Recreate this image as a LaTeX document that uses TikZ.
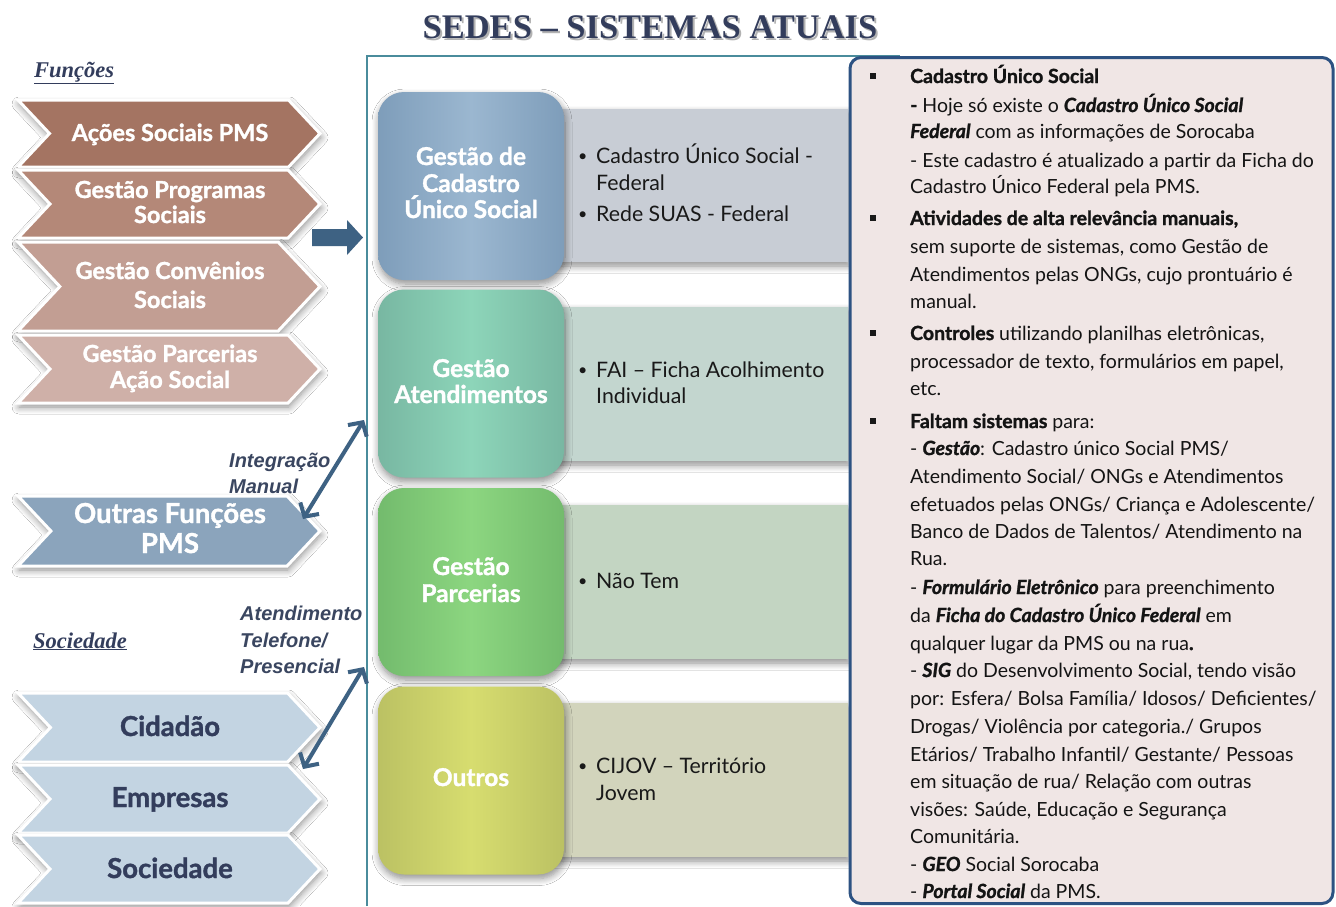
\documentclass[tikz,border=0pt]{standalone}
\usepackage{fontspec}
\setmainfont{Lato}[BoldFeatures={FakeBold=1.3},BoldItalicFeatures={FakeBold=1.3}]
\newfontfamily\tnr[Ligatures=TeX]{Liberation Serif}
\newfontfamily\arl[Ligatures=TeX]{Liberation Sans}
\usetikzlibrary{shadows.blur,arrows.meta}
\definecolor{navy}{HTML}{333D5C}
\definecolor{slate}{HTML}{3A4660}
\definecolor{framec}{HTML}{4A8C9C}
\definecolor{rborder}{HTML}{2D5282}
\definecolor{rfill}{HTML}{F0E6E5}
\definecolor{arrowc}{HTML}{3E6283}
\definecolor{chA}{HTML}{A47462}
\definecolor{chB}{HTML}{B48878}
\definecolor{chC}{HTML}{C29E93}
\definecolor{chD}{HTML}{CFB0A8}
\definecolor{chO}{HTML}{8BA4BC}
\definecolor{chS}{HTML}{C3D4E2}
\definecolor{bandA}{HTML}{C8CDD5}
\definecolor{bandB}{HTML}{C3D6CF}
\definecolor{bandC}{HTML}{C3D5C2}
\definecolor{bandD}{HTML}{D2D4BC}
\definecolor{boxAe}{HTML}{7E9DBA}
\definecolor{boxAm}{HTML}{9BB7D0}
\definecolor{boxBe}{HTML}{78B7A2}
\definecolor{boxBm}{HTML}{8DD5B9}
\definecolor{boxCe}{HTML}{73BB6D}
\definecolor{boxCm}{HTML}{8CD680}
\definecolor{boxDe}{HTML}{BBC163}
\definecolor{boxDm}{HTML}{D7DD6F}
\tikzset{
  shad/.style={blur shadow={shadow blur steps=8, shadow blur radius=7pt, shadow xshift=1pt, shadow yshift=-4pt, shadow opacity=45}},
  chevpath/.style={draw=white, line width=3pt, line join=miter, shad},
  chevtext/.style={anchor=base, inner sep=0, font=\bfseries\fontsize{23.5}{24}\selectfont, text=white},
  bigchevtext/.style={anchor=base, inner sep=0, font=\bfseries\fontsize{27.5}{28}\selectfont},
  boxtitle/.style={anchor=base, inner sep=0, font=\bfseries\fontsize{24.5}{25}\selectfont, text=white},
  sysbox/.style={rounded corners=26pt, minimum width=186pt, minimum height=188pt, inner sep=0, shad},
  band/.style={shad},
  bandtext/.style={anchor=base west, inner sep=0, font=\fontsize{21.3}{22}\selectfont, text=black!90},
  bandbul/.style={anchor=base west, inner sep=0, font=\fontsize{16}{17}\selectfont, text=black!90},
  rtext/.style={anchor=base west, inner sep=0, font=\fontsize{19.5}{20}\selectfont, text=black!92},
  rbul/.style={inner sep=0, fill=black!90, minimum size=6pt},
  lbl/.style={anchor=base west, inner sep=0, font=\arl\bfseries\itshape\fontsize{20}{21}\selectfont, text=slate},
  seclbl/.style={anchor=base west, inner sep=0, font=\tnr\bfseries\itshape\fontsize{22.5}{23}\selectfont, text=navy},
  dbl/.style={draw=arrowc, line width=4pt, {Straight Barb[length=10pt,width=22pt]}-{Straight Barb[length=10pt,width=22pt]}}
}
\newcommand\chev[3]{% y1 y2 fill
  \pgfmathsetmacro\cym{(#1+#2)/2}
  \pgfmathsetmacro\cd{0.47*(#2-#1)}
  \path[chevpath, fill=#3] (18,#1) -- ({320-\cd},#1) -- (320,\cym) -- ({320-\cd},#2) -- (18,#2) -- ({18+\cd},\cym) -- cycle;
}
\newcommand\rl[3]{\node[rtext] (#1) at (910,#2) {#3};}
\newcommand\rb[2]{\node[rbul] (#1) at (872.5,#2-7.5) {};}
\begin{document}
\begin{tikzpicture}[x=1pt,y=-1pt]
\useasboundingbox (0,0) rectangle (1336,906);
\fill[white] (0,0) rectangle (1336,906);

% title
\node[anchor=base, inner sep=0, font=\tnr\bfseries\fontsize{34.5}{35}\selectfont, text=black!30] (titleshadow) at (652,40) {SEDES – SISTEMAS ATUAIS};
\node[anchor=base, inner sep=0, font=\tnr\bfseries\fontsize{34.5}{35}\selectfont, text=navy] (title) at (650,38) {SEDES – SISTEMAS ATUAIS};

% frame
\draw[framec, line width=2pt] (367,906) -- (367,56) -- (900,56);

% section labels
\node[seclbl] (funcoes) at (34,77) {\underline{Funções}};
\node[seclbl] (sociedade) at (33,648) {\underline{Sociedade}};

% function chevrons
\chev{100}{167}{chA}
\chev{170}{238}{chB}
\chev{242}{331}{chC}
\chev{335}{403}{chD}
\node[chevtext] (f1) at (170,141) {Ações Sociais PMS};
\node[chevtext] (f2a) at (170,198) {Gestão Programas};
\node[chevtext] (f2b) at (170,223) {Sociais};
\node[chevtext] (f3a) at (170,279) {Gestão Convênios};
\node[chevtext] (f3b) at (170,308) {Sociais};
\node[chevtext] (f4a) at (170,362) {Gestão Parcerias};
\node[chevtext] (f4b) at (170,388) {Ação Social};

% outras funcoes
\chev{496}{566}{chO}
\node[bigchevtext, text=white] (o1) at (170,523) {Outras Funções};
\node[bigchevtext, text=white] (o2) at (170,553) {PMS};

% sociedade chevrons
\chev{693}{762}{chS}
\chev{765}{833}{chS}
\chev{835}{903}{chS}
\node[bigchevtext, text=navy] (s1) at (170,736) {Cidadão};
\node[bigchevtext, text=navy] (s2) at (170,807) {Empresas};
\node[bigchevtext, text=navy] (s3) at (170,878) {Sociedade};

% block arrow
\fill[arrowc] (312,229) -- (347,229) -- (347,220) -- (363,237.5) -- (347,255) -- (347,246) -- (312,246) -- cycle;

% double arrows
\coordinate (i1) at (364,420);
\coordinate (i2) at (303,519);
\coordinate (a1) at (364,667);
\coordinate (a2) at (303,769);
\draw[dbl] (i2) -- (i1);
\draw[dbl] (a2) -- (a1);
\node[lbl] (int1) at (229,467) {Integração};
\node[lbl] (int2) at (229,493) {Manual};
\node[lbl] (at1) at (240,620) {Atendimento};
\node[lbl] (at2) at (240,647) {Telefone/};
\node[lbl] (at3) at (240,673) {Presencial};

% bands
\path[band, fill=bandA] (540,109) rectangle (848,262);
\path[band, fill=bandB] (540,307) rectangle (848,461);
\path[band, fill=bandC] (540,505) rectangle (848,659);
\path[band, fill=bandD] (540,703) rectangle (848,857);

% system boxes
\node[sysbox, left color=boxAe, right color=boxAe, middle color=boxAm] (b1) at (471,186) {};
\node[sysbox, left color=boxBe, right color=boxBe, middle color=boxBm] (b2) at (471,383.5) {};
\node[sysbox, left color=boxCe, right color=boxCe, middle color=boxCm] (b3) at (471,582) {};
\node[sysbox, left color=boxDe, right color=boxDe, middle color=boxDm] (b4) at (471,780.5) {};

\node[boxtitle] (t1a) at (471,165) {Gestão de};
\node[boxtitle] (t1b) at (471,192) {Cadastro};
\node[boxtitle] (t1c) at (471,218) {Único Social};
\node[boxtitle] (t2a) at (471,377) {Gestão};
\node[boxtitle] (t2b) at (471,403) {Atendimentos};
\node[boxtitle] (t3a) at (471,575) {Gestão};
\node[boxtitle] (t3b) at (471,602) {Parcerias};
\node[boxtitle] (t4a) at (471,786) {Outros};

% band texts
\node[bandbul] (d1) at (578,161) {•};
\node[bandtext] (d1a) at (596,163) {Cadastro Único Social -};
\node[bandtext] (d1b) at (596,190) {Federal};
\node[bandbul] (d2) at (578,219) {•};
\node[bandtext] (d2a) at (596,221) {Rede SUAS - Federal};
\node[bandbul] (d3) at (578,375) {•};
\node[bandtext] (d3a) at (596,377) {FAI – Ficha Acolhimento};
\node[bandtext] (d3b) at (596,403) {Individual};
\node[bandbul] (d4) at (578,586) {•};
\node[bandtext] (d4a) at (596,588) {Não Tem};
\node[bandbul] (d5) at (578,771) {•};
\node[bandtext] (d5a) at (596,773) {CIJOV – Território};
\node[bandtext] (d5b) at (596,800) {Jovem};

% right box
\draw[draw=rborder, line width=3pt, fill=rfill, rounded corners=11pt] (850,57.5) rectangle (1333,903.5);
\rb{q1}{83}
\rl{r1}{83}{\textbf{Cadastro Único Social}}
\rl{r2}{112}{\textbf{-} Hoje só existe o \textbf{\textit{Cadastro Único Social}}}
\rl{r3}{138}{\textbf{\textit{Federal}} com as informações de Sorocaba}
\rl{r4}{167}{- Este cadastro é atualizado a partir da Ficha do}
\rl{r5}{193}{Cadastro Único Federal pela PMS.}
\rb{q2}{225}
\rl{r6}{225}{\textbf{Atividades de alta relevância manuais,}}
\rl{r7}{253}{sem suporte de sistemas, como Gestão de}
\rl{r8}{281}{Atendimentos pelas ONGs, cujo prontuário é}
\rl{r9}{308}{manual.}
\rb{q3}{340}
\rl{r10}{340}{\textbf{Controles} utilizando planilhas eletrônicas,}
\rl{r11}{368}{processador de texto, formulários em papel,}
\rl{r12}{395}{etc.}
\rb{q4}{428}
\rl{r13}{428}{\textbf{Faltam sistemas} para:}
\rl{r14}{455}{- \textbf{\textit{Gestão}}: Cadastro único Social PMS/}
\rl{r15}{483}{Atendimento Social/ ONGs e Atendimentos}
\rl{r16}{511}{efetuados pelas ONGs/ Criança e Adolescente/}
\rl{r17}{538}{Banco de Dados de Talentos/ Atendimento na}
\rl{r18}{565}{Rua.}
\rl{r19}{594}{- \textbf{\textit{Formulário Eletrônico}} para preenchimento}
\rl{r20}{622}{da \textbf{\textit{Ficha do Cadastro Único Federal}} em}
\rl{r21}{650}{qualquer lugar da PMS ou na rua\textbf{.}}
\rl{r22}{677}{- \textbf{\textit{SIG}} do Desenvolvimento Social, tendo visão}
\rl{r23}{705}{por: Esfera/ Bolsa Família/ Idosos/ Deficientes/}
\rl{r24}{733}{Drogas/ Violência por categoria./ Grupos}
\rl{r25}{761}{Etários/ Trabalho Infantil/ Gestante/ Pessoas}
\rl{r26}{788}{em situação de rua/ Relação com outras}
\rl{r27}{816}{visões: Saúde, Educação e Segurança}
\rl{r28}{843}{Comunitária.}
\rl{r29}{871}{- \textbf{\textit{GEO}} Social Sorocaba}
\rl{r30}{898}{- \textbf{\textit{Portal Social}} da PMS.}
\end{tikzpicture}
\end{document}
